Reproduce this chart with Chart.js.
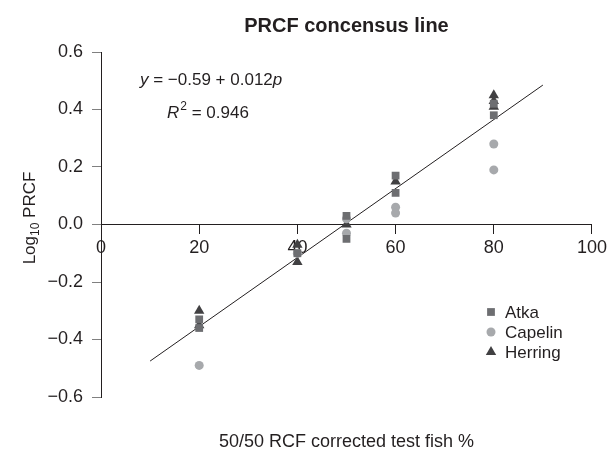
<!DOCTYPE html>
<html>
<head>
<meta charset="utf-8">
<script src="https://cdn.jsdelivr.net/npm/chart.js@4.4.1/dist/chart.umd.min.js"></script>
<style>
  html, body { margin: 0; padding: 0; background: #fff; }
</style>
</head>
<body>
<canvas id="prcf" width="611" height="465"></canvas>
<script>
// tick values
const xTicks = [0, 20, 40, 60, 80, 100];
const yTicks = [-0.6, -0.4, -0.2, 0.0, 0.2, 0.4, 0.6];

// series
const atkaX = [20, 20, 40, 50, 50, 60, 60, 80, 80];
const atkaY = [-0.33, -0.36, -0.10, 0.03, -0.05, 0.17, 0.11, 0.42, 0.38];
const capelinX = [20, 40, 50, 50, 60, 60, 80, 80];
const capelinY = [-0.49, -0.10, 0.02, -0.03, 0.06, 0.04, 0.28, 0.19];
const herringX = [20, 20, 40, 40, 50, 60, 80, 80, 80];
const herringY = [-0.30, -0.35, -0.07, -0.13, 0.00, 0.15, 0.45, 0.43, 0.41];

// consensus line end points
const fitX = [10, 90];
const fitY = [-0.475, 0.485];

const FONT = "'Liberation Sans', Arial, sans-serif";
const INK = '#231f20';

const pts = (xs, ys) => xs.map((x, i) => ({ x: x, y: ys[i] }));
const minus = v => (v < -1e-9 ? '\u2212' : '') + Math.abs(v).toFixed(1);

// titles, equation and legend drawn straight onto the canvas
const textPlugin = {
  id: 'texts',
  afterDraw(chart) {
    const c = chart.ctx;
    const a = chart.chartArea;
    c.save();
    c.fillStyle = INK;
    c.textBaseline = 'alphabetic';

    c.font = 'bold 20px ' + FONT;
    c.textAlign = 'center';
    c.fillText('PRCF concensus line', (a.left + a.right) / 2, 32);

    c.font = '18px ' + FONT;
    c.fillText('50/50 RCF corrected test fish %', (a.left + a.right) / 2, 447);

    // y title with subscript
    c.save();
    c.translate(35, 218);
    c.rotate(-Math.PI / 2);
    c.textAlign = 'left';
    c.font = '17px ' + FONT;
    const w1 = c.measureText('Log').width;
    c.font = '12px ' + FONT;
    const w2 = c.measureText('10').width;
    c.font = '17px ' + FONT;
    const w3 = c.measureText(' PRCF').width;
    let x0 = -(w1 + w2 + w3) / 2;
    c.fillText('Log', x0, 0);
    c.font = '12px ' + FONT;
    c.fillText('10', x0 + w1, 4);
    c.font = '17px ' + FONT;
    c.fillText(' PRCF', x0 + w1 + w2, 0);
    c.restore();

    // equation
    c.textAlign = 'left';
    let x = 140;
    c.font = 'italic 17px ' + FONT;
    c.fillText('y', x, 85); x += c.measureText('y').width;
    c.font = '17px ' + FONT;
    c.fillText(' = \u22120.59 + 0.012', x, 85); x += c.measureText(' = \u22120.59 + 0.012').width;
    c.font = 'italic 17px ' + FONT;
    c.fillText('p', x, 85);

    x = 167;
    c.fillText('R', x, 118); x += c.measureText('R').width;
    c.font = '12px ' + FONT;
    c.fillText('2', x + 1, 110); x += c.measureText('2').width + 1;
    c.font = '17px ' + FONT;
    c.fillText(' = 0.946', x, 118);

    // legend
    c.font = '17px ' + FONT;
    c.textBaseline = 'middle';
    const ys = [312, 332, 352];
    chart.data.datasets.slice(0, 3).forEach((ds, i) => {
      c.fillStyle = ds.backgroundColor;
      Chart.helpers.drawPoint(c, {
        pointStyle: ds.pointStyle, radius: ds.pointRadius, borderWidth: 0
      }, 491, ys[i]);
      c.fillStyle = INK;
      c.fillText(ds.label, 505, ys[i] + 1);
    });
    c.restore();
  }
};

new Chart(document.getElementById('prcf'), {
  type: 'scatter',
  data: {
    datasets: [
      {
        label: 'Atka', data: pts(atkaX, atkaY), pointStyle: 'rect',
        pointRadius: 5.5, backgroundColor: '#6d6e71', borderWidth: 0
      },
      {
        label: 'Capelin', data: pts(capelinX, capelinY), pointStyle: 'circle',
        pointRadius: 4.5, backgroundColor: '#a7a9ac', borderWidth: 0
      },
      {
        label: 'Herring', data: pts(herringX, herringY), pointStyle: 'triangle',
        pointRadius: 6, backgroundColor: '#414042', borderWidth: 0
      },
      {
        label: 'fit', type: 'line', data: pts(fitX, fitY),
        borderColor: INK, borderWidth: 1, pointRadius: 0, fill: false
      }
    ]
  },
  options: {
    responsive: false,
    animation: false,
    layout: { padding: { left: 0, right: 17, top: 52, bottom: 68 } },
    plugins: {
      legend: { display: false },
      tooltip: { enabled: false }
    },
    scales: {
      x: {
        type: 'linear',
        position: { y: 0 },
        min: 0, max: 100,
        afterBuildTicks: s => { s.ticks = xTicks.map(v => ({ value: v })); },
        grid: { drawOnChartArea: false, drawTicks: true, tickLength: 9, color: INK },
        border: { display: true, color: INK, width: 1 },
        ticks: { color: INK, padding: 4, font: { family: FONT, size: 18 } }
      },
      y: {
        type: 'linear',
        position: 'left',
        min: -0.6, max: 0.6,
        afterBuildTicks: s => { s.ticks = yTicks.map(v => ({ value: v })); },
        afterFit: s => { s.width = 101; },
        grid: { drawOnChartArea: false, drawTicks: true, tickLength: 9, color: '#808080' },
        border: { display: true, color: INK, width: 1 },
        ticks: { color: INK, padding: 9, font: { family: FONT, size: 18 }, callback: v => minus(v) }
      }
    }
  },
  plugins: [textPlugin]
});
</script>
</body>
</html>
